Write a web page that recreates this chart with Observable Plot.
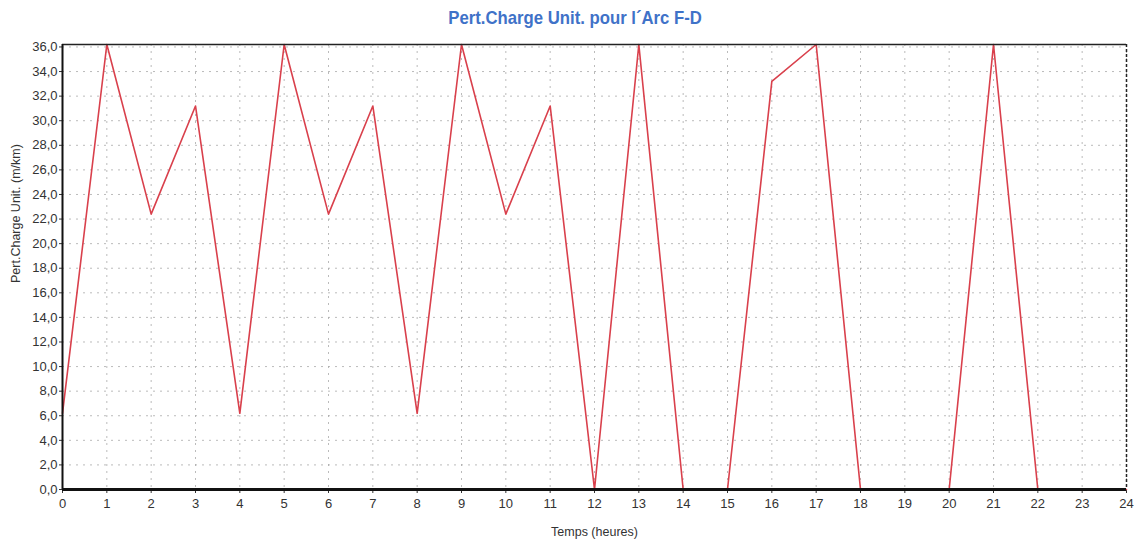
<!DOCTYPE html>
<html>
<head>
<meta charset="utf-8">
<script src="https://cdn.jsdelivr.net/npm/d3@7"></script>
<script src="https://cdn.jsdelivr.net/npm/@observablehq/plot@0.6"></script>
<style>
  html, body { margin: 0; padding: 0; background: #fff; }
  #title { height: 30px; line-height: 36px; text-align: center; color: #3f72c8;
    font-family: "Liberation Sans Narrow", "Liberation Sans", Arial, sans-serif;
    font-weight: bold; font-size: 19px; padding-left: 14px; }
  #title span { display: inline-block; transform: scaleX(0.88); }
  svg { display: block; }
</style>
</head>
<body>
<div id="title"><span>Pert.Charge Unit. pour l´Arc F-D</span></div>
<div id="chart"></div>
<script>
const hours = [0,1,2,3,4,5,6,7,8,9,10,11,12,13,14,15,16,17,18,19,20,21,22,23,24];
const values = [6.2,36.2,22.4,31.2,6.2,36.2,22.4,31.2,6.2,36.2,22.4,31.2,0,36.2,0,0,33.2,36.2,0,0,0,36.2,0,0,0];
const yTicks = [0,2,4,6,8,10,12,14,16,18,20,22,24,26,28,30,32,34,36];
const xTicks = [0,1,2,3,4,5,6,7,8,9,10,11,12,13,14,15,16,17,18,19,20,21,22,23,24];
const xLabel = "Temps (heures)";
const yLabel = "Pert.Charge Unit. (m/km)";

const data = hours.map((h, i) => ({h, v: values[i]}));
const fmt = d => d3.format(".1f")(d).replace(".", ",");

const chart = Plot.plot({
  width: 1136,
  height: 514,
  marginTop: 14,
  marginBottom: 55,
  marginLeft: 62,
  marginRight: 10,
  style: {fontFamily: "'Liberation Sans Narrow', 'Liberation Sans', Arial, sans-serif", fontSize: "12.5px", color: "#333"},
  x: {domain: [0, 24], label: null},
  y: {domain: [0, 36.2], label: null},
  marks: [
    Plot.gridX(xTicks, {stroke: "#aaa", strokeOpacity: 0.8, strokeDasharray: "2,5"}),
    Plot.gridY(yTicks, {stroke: "#aaa", strokeOpacity: 0.8, strokeDasharray: "2,5"}),
    Plot.axisX(xTicks, {tickSize: 4, tickFormat: d => d, fontSize: 13, tickPadding: 5}),
    Plot.axisY(yTicks, {tickSize: 3, tickFormat: fmt, fontSize: 13, tickPadding: 2}),
    Plot.line(data, {x: "h", y: "v", stroke: "#d9404c", strokeWidth: 1.6}),
    Plot.ruleY([36.2], {stroke: "#222", strokeWidth: 1.5}),
    Plot.ruleX([24], {stroke: "#222", strokeWidth: 1.5, strokeDasharray: "3,2"}),
    Plot.ruleX([0], {stroke: "#111", strokeWidth: 2}),
    Plot.ruleY([0], {stroke: "#111", strokeWidth: 3}),
    Plot.text([xLabel], {frameAnchor: "bottom", dy: 46, fontSize: 12.5, fill: "#333"}),
    Plot.text([yLabel], {frameAnchor: "left", dx: -47, dy: 16, rotate: -90, fontSize: 12.5, fill: "#333"})
  ]
});
document.getElementById("chart").append(chart);
</script>
</body>
</html>
